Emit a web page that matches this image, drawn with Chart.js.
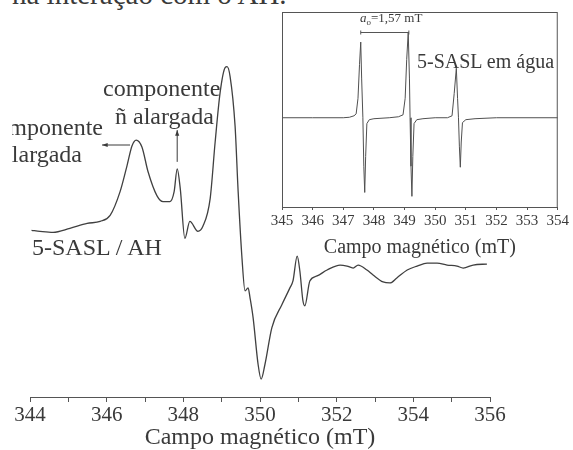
<!DOCTYPE html>
<html>
<head>
<meta charset="utf-8">
<script src="https://cdn.jsdelivr.net/npm/chart.js@4/dist/chart.umd.min.js"></script>
<style>
  html, body { margin: 0; padding: 0; background: #fff; overflow: hidden; }
  #page { position: relative; width: 573px; height: 450px; overflow: hidden; font-family: "Liberation Serif", serif; color: #3a3a3a; }
  #mainChart { position: absolute; left: 0; top: 0; }
  #insetChart { position: absolute; left: 250px; top: 0; }
  #clipLeft { position: absolute; left: 12px; top: 100px; width: 120px; height: 80px; overflow: hidden; }
  .lbl { position: absolute; white-space: nowrap; line-height: 1; }
  .big { font-size: 24px; }
  sub { font-size: 9px; line-height: 0; vertical-align: -3px; }
</style>
</head>
<body>
<div id="page">
  <div class="lbl" style="left:12px; top:-20px; font-size:29px;">na interação com o AH.</div>
  <canvas id="mainChart" width="573" height="450"></canvas>
  <canvas id="insetChart" width="323" height="258"></canvas>
  <div id="clipLeft">
    <div class="lbl big" style="right:29px; top:15px;">componente</div>
    <div class="lbl big" style="right:50px; top:42px;">alargada</div>
  </div>
  <div class="lbl big" style="left:103px; top:76px;">componente</div>
  <div class="lbl big" style="left:115px; top:104px;">ñ alargada</div>
  <div class="lbl big" style="left:32px; top:235px;">5-SASL / AH</div>
  <div class="lbl" style="left:417px; top:51px; font-size:20px;">5-SASL em água</div>
  <div class="lbl" style="left:360px; top:11px; font-size:13px;"><i>a</i><sub>o</sub>=1,57 mT</div>
</div>
<script>
// --- Data: 5-SASL / AH spectrum (first derivative, arbitrary units) ---
const mainField = [344.04, 344.26, 344.60, 345.04, 345.49, 345.83, 346.09, 346.35, 346.53, 346.66,
    346.77, 346.92, 347.08, 347.31, 347.47, 347.65, 347.76, 347.84, 347.92, 348.04,
    348.17, 348.38, 348.51, 348.70, 348.83, 348.96, 349.09, 349.14, 349.22, 349.35,
    349.43, 349.53, 349.61, 349.69, 349.74, 349.82, 349.95, 350.03, 350.13, 350.31,
    350.57, 350.78, 350.86, 350.97, 351.04, 351.12, 351.17, 351.30, 351.49, 351.75,
    352.09, 352.27, 352.43, 352.56, 352.79, 352.95, 353.21, 353.39, 353.57, 353.84,
    354.10, 354.36, 354.62, 354.88, 355.14, 355.30, 355.56, 355.92];
const mainSignal = [38, 37, 36, 40, 45, 47, 53, 77, 103, 123,
    129, 122, 97, 73, 67, 67, 77, 100, 80, 30,
    47, 37, 42, 70, 127, 177, 202, 203, 193, 143,
    77, 10, -23, -20, -30, -50, -97, -112, -97, -60,
    -37, -20, -13, 12, -3, -33, -38, -13, -8, -2,
    3, 2, 0, 3, -2, -7, -14, -15, -10, -2,
    2, 5, 5, 3, 2, 0, 3, 4];
const mainTickLabels = [344, 346, 348, 350, 352, 354, 356];

// --- Data: 5-SASL in water (inset) ---
const insetField = [345.0, 346.0, 347.0, 347.2, 347.35, 347.42, 347.48, 347.53, 347.57, 347.60,
    347.64, 347.67, 347.70, 347.73, 347.77, 347.85, 348.0, 348.5, 348.8, 348.95,
    349.02, 349.07, 349.12, 349.16, 349.18, 349.21, 349.24, 349.27, 349.31, 349.40,
    349.6, 350.0, 350.4, 350.55, 350.62, 350.69, 350.73, 350.76, 350.79, 350.82,
    350.85, 350.89, 351.0, 351.3, 352.0, 354.0];
const insetSignal = [0, 0, 0, 0.5, 2, 4, 20, 55, 78, 40,
    0, -50, -77, -40, -6, -2, -1, 0, 1, 3,
    20, 60, 88, 40, 0, -50, -81, -40, -6, -2,
    -1, 0, 0, 2, 25, 51, 20, 0, -30, -51,
    -25, -5, -2, -1, 0, 0];
const insetTickLabels = [345, 346, 347, 348, 349, 350, 351, 352, 353, 354];
const hyperfine = [347.57, 349.14];   // a0 = 1,57 mT

const ink = '#3a3a3a';
const serif = '"Liberation Serif", serif';

// draws a small arrow line with head at (x2, y2)
const arrow = (ctx, x1, y1, x2, y2) => {
    const ang = Math.atan2(y2 - y1, x2 - x1);
    ctx.beginPath();
    ctx.moveTo(x1, y1);
    ctx.lineTo(x2, y2);
    ctx.stroke();
    ctx.beginPath();
    ctx.moveTo(x2, y2);
    ctx.lineTo(x2 - 6 * Math.cos(ang - 0.35), y2 - 6 * Math.sin(ang - 0.35));
    ctx.lineTo(x2 - 6 * Math.cos(ang + 0.35), y2 - 6 * Math.sin(ang + 0.35));
    ctx.closePath();
    ctx.fill();
};

const mainArrows = {
    id: 'mainArrows',
    afterDraw(chart) {
        const { ctx, scales: { x, y } } = chart;
        ctx.save();
        ctx.strokeStyle = ink;
        ctx.fillStyle = ink;
        ctx.lineWidth = 1;
        // broad component -> left
        arrow(ctx, x.getPixelForValue(346.61), y.getPixelForValue(124), x.getPixelForValue(345.88), y.getPixelForValue(124));
        // narrow component -> up
        arrow(ctx, x.getPixelForValue(347.84), y.getPixelForValue(107), x.getPixelForValue(347.84), y.getPixelForValue(139));
        ctx.restore();
    }
};

const insetFrame = {
    id: 'insetFrame',
    beforeDraw(chart) {
        const { ctx, chartArea: a } = chart;
        ctx.save();
        ctx.fillStyle = '#fff';
        ctx.fillRect(a.left, a.top, a.right - a.left, a.bottom - a.top);
        ctx.restore();
    },
    afterDraw(chart) {
        const { ctx, chartArea: a, scales: { x } } = chart;
        ctx.save();
        ctx.strokeStyle = '#555';
        ctx.lineWidth = 1;
        ctx.strokeRect(a.left + 0.5, a.top + 0.5, a.right - a.left - 1, a.bottom - a.top);
        // hyperfine splitting bar
        const x1 = x.getPixelForValue(hyperfine[0]);
        const x2 = x.getPixelForValue(hyperfine[1]);
        const yb = 32.5;
        ctx.beginPath();
        ctx.moveTo(x1, yb); ctx.lineTo(x2, yb);
        ctx.moveTo(x1, yb - 2); ctx.lineTo(x1, yb + 2);
        ctx.moveTo(x2, yb - 2); ctx.lineTo(x2, yb + 2);
        ctx.stroke();
        ctx.restore();
    }
};

new Chart(document.getElementById('mainChart'), {
    type: 'line',
    data: {
        datasets: [{
            data: mainField.map((f, i) => ({ x: f, y: mainSignal[i] })),
            borderColor: '#404040',
            borderWidth: 1.3,
            pointRadius: 0,
            cubicInterpolationMode: 'monotone',
            fill: false
        }]
    },
    options: {
        responsive: false,
        animation: false,
        layout: { padding: { left: 30, right: 83, top: 20, bottom: 0 } },
        plugins: { legend: { display: false }, tooltip: { enabled: false } },
        scales: {
            x: {
                type: 'linear',
                min: 344,
                max: 356,
                border: { color: '#555', width: 1 },
                grid: { drawOnChartArea: false, drawTicks: true, tickLength: 5, color: '#555' },
                ticks: {
                    stepSize: 1,
                    autoSkip: false,
                    maxRotation: 0,
                    padding: 3,
                    color: ink,
                    font: { family: serif, size: 21, lineHeight: 1 },
                    callback: v => mainTickLabels.includes(v) ? String(v) : ''
                },
                title: {
                    display: true,
                    text: 'Campo magnético (mT)',
                    color: ink,
                    font: { family: serif, size: 24, lineHeight: 1 },
                    padding: { top: -3, bottom: 0 }
                }
            },
            y: { display: false, min: -130, max: 250 }
        }
    },
    plugins: [mainArrows]
});

new Chart(document.getElementById('insetChart'), {
    type: 'line',
    data: {
        datasets: [{
            data: insetField.map((f, i) => ({ x: f, y: insetSignal[i] })),
            borderColor: '#505050',
            borderWidth: 1,
            pointRadius: 0,
            tension: 0,
            fill: false
        }]
    },
    options: {
        responsive: false,
        animation: false,
        layout: { padding: { left: 32, right: 11, top: 12, bottom: 0 } },
        plugins: { legend: { display: false }, tooltip: { enabled: false } },
        scales: {
            x: {
                type: 'linear',
                min: 345,
                max: 354,
                border: { color: '#555', width: 1 },
                grid: { drawOnChartArea: false, drawTicks: true, tickLength: 3, color: '#555' },
                ticks: {
                    stepSize: 1,
                    autoSkip: false,
                    maxRotation: 0,
                    padding: 4,
                    color: ink,
                    font: { family: serif, size: 15, lineHeight: 1 },
                    callback: v => insetTickLabels.includes(v) ? String(v) : ''
                },
                title: {
                    display: true,
                    text: 'Campo magnético (mT)',
                    color: ink,
                    font: { family: serif, size: 20, lineHeight: 1 },
                    padding: { top: 5, bottom: 0 }
                }
            },
            y: { display: false, min: -92, max: 109 }
        }
    },
    plugins: [insetFrame]
});
</script>
</body>
</html>
